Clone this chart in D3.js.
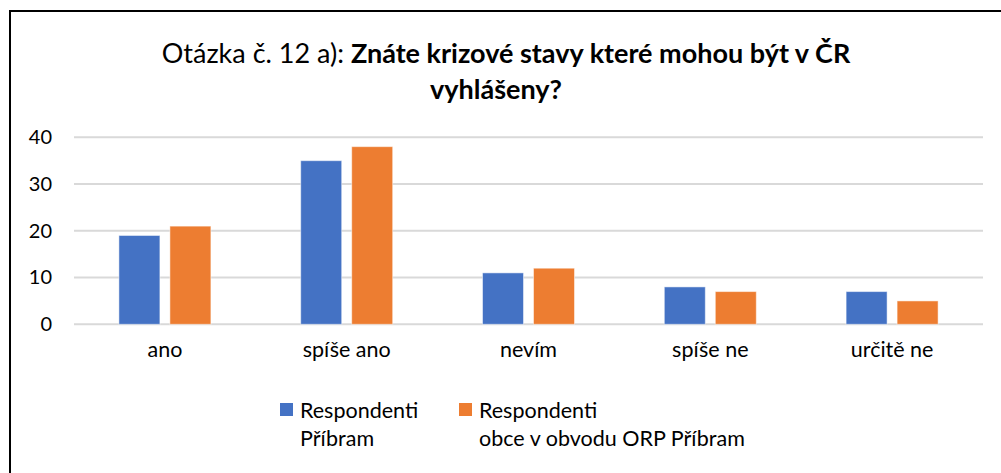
<!DOCTYPE html>
<html>
<head>
<meta charset="utf-8">
<script src="https://cdn.jsdelivr.net/npm/d3@7"></script>
<style>
  body { margin: 0; background: #fff; }
  svg text { font-family: Lato, "Noto Sans", sans-serif; fill: #000; }
</style>
</head>
<body>
<div id="grafica"></div>
<script>
// data
categories = ['ano', 'spíše ano', 'nevím', 'spíše ne', 'určitě ne']
seriesNames = ['Respondenti Příbram', 'Respondenti obce v obvodu ORP Příbram']
pribram = [19, 35, 11, 8, 7]
obce = [21, 38, 12, 7, 5]
yTicks = [0, 10, 20, 30, 40]

colores = ['#4472C4', '#ED7D31']

W = 1001
H = 473

svg = d3.select('#grafica')
    .append('svg')
    .attr('width', W)
    .attr('height', H)

// outer frame (right and bottom edges fall outside the picture)
svg.append('rect')
    .attr('x', 10).attr('y', 11)
    .attr('width', 1010).attr('height', 480)
    .attr('fill', 'none')
    .attr('stroke', '#000')
    .attr('stroke-width', 2)

// title
title = svg.append('text')
    .attr('text-anchor', 'middle')
    .style('font-size', '27px')
title.append('tspan')
    .attr('x', 506).attr('y', 63)
    .text('Otázka č. 12 a): ')
    .append('tspan')
    .style('font-weight', 'bold')
    .text('Znáte krizové stavy které mohou být v ČR')
title.append('tspan')
    .attr('x', 496).attr('y', 99)
    .style('font-weight', 'bold')
    .text('vyhlášeny?')

// scales
x0 = d3.scaleBand()
    .domain(categories)
    .range([74, 983])
    .paddingInner(0.494)
    .paddingOuter(0.247)

x1 = d3.scaleBand()
    .domain([0, 1])
    .range([0, x0.bandwidth()])
    .paddingInner(0.196)

y = d3.scaleLinear()
    .domain([0, 40])
    .range([324.3, 137.3])

// grid
svg.append('g')
    .selectAll('line')
    .data(yTicks)
    .enter()
    .append('line')
    .attr('x1', 74).attr('x2', 983)
    .attr('y1', function (d) { return y(d) })
    .attr('y2', function (d) { return y(d) })
    .attr('stroke', '#D9D9D9')
    .attr('stroke-width', 2)

// y axis labels
yAxis = svg.append('g')
    .attr('transform', 'translate(52,0)')
    .call(d3.axisLeft(y).tickValues(yTicks).tickSize(0).tickPadding(0))
yAxis.select('.domain').remove()
yAxis.selectAll('text')
    .style('font-size', '20px')
    .attr('font-family', null)

// bars
datos = [pribram, obce]
grupos = svg.append('g')
    .selectAll('g')
    .data(categories)
    .enter()
    .append('g')
    .attr('transform', function (d) { return 'translate(' + x0(d) + ',0)' })

grupos.selectAll('rect')
    .data(function (d, i) { return [0, 1].map(function (s) { return { s: s, v: datos[s][i] } }) })
    .enter()
    .append('rect')
    .attr('x', function (d) { return x1(d.s) })
    .attr('y', function (d) { return y(d.v) })
    .attr('width', x1.bandwidth())
    .attr('height', function (d) { return y(0) - y(d.v) })
    .attr('fill', function (d) { return colores[d.s] })
    .attr('stroke', '#ffffff')
    .attr('stroke-opacity', 0.5)
    .attr('stroke-width', 1)

// x axis labels
xAxis = svg.append('g')
    .attr('transform', 'translate(0,' + 342 + ')')
    .call(d3.axisBottom(x0).tickSize(0).tickPadding(0))
xAxis.select('.domain').remove()
xAxis.selectAll('text')
    .style('font-size', '21.5px')
    .attr('font-family', null)
    .attr('dy', '0.71em')

// legend
leyenda = [
    { x: 280, lines: ['Respondenti', 'Příbram'] },
    { x: 459, lines: ['Respondenti', 'obce v obvodu ORP Příbram'] }
]
items = svg.append('g')
    .selectAll('g')
    .data(leyenda)
    .enter()
    .append('g')
    .attr('transform', function (d) { return 'translate(' + d.x + ',403)' })
items.append('rect')
    .attr('width', 13).attr('height', 13)
    .attr('fill', function (d, i) { return colores[i] })
items.append('text')
    .style('font-size', '21.5px')
    .selectAll('tspan')
    .data(function (d) { return d.lines })
    .enter()
    .append('tspan')
    .attr('x', 20)
    .attr('y', function (d, i) { return 15 + i * 28 })
    .text(function (d) { return d })
</script>
</body>
</html>
